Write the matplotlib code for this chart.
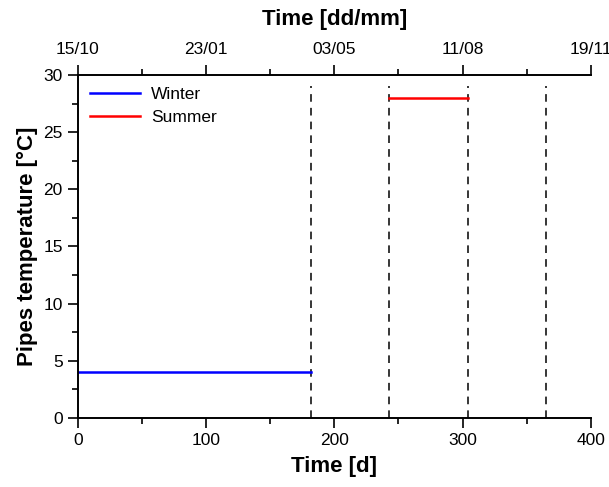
import numpy as np
import matplotlib.pyplot as plt
import matplotlib
from matplotlib.ticker import MultipleLocator
matplotlib.rcParams['font.family'] = 'Liberation Sans'

label_size = 16
tick_size = 12.5

winter_days = [0, 182]
winter_temp = [4, 4]
summer_days = [243, 304]
summer_temp = [28, 28]
season_limits = [182, 243, 304, 365]
dash_top = 29

top_ticks = [0, 100, 200, 300, 400]
top_labels = ["15/10", "23/01", "03/05", "11/08", "19/11"]

fig = plt.figure(figsize=(6.09, 4.87), dpi=100)
ax = fig.add_axes([0.128, 0.142, 0.842, 0.704])

for d in season_limits:
    ax.plot([d, d], [0, dash_top], color="k", linestyle=(0, (5, 4)), linewidth=1.1)

ax.plot(winter_days, winter_temp, color="b", linewidth=1.8, label="Winter")
ax.plot(summer_days, summer_temp, color="r", linewidth=1.8, label="Summer")

ax.set_xlim(0, 400)
ax.set_ylim(0, 30)
ax.xaxis.set_major_locator(MultipleLocator(100))
ax.xaxis.set_minor_locator(MultipleLocator(50))
ax.yaxis.set_major_locator(MultipleLocator(5))
ax.yaxis.set_minor_locator(MultipleLocator(2.5))
ax.tick_params(which="major", direction="out", length=7, width=1.2, labelsize=tick_size, pad=4)
ax.tick_params(which="minor", direction="out", length=4.5, width=1.2)
ax.spines["right"].set_visible(False)
ax.spines["top"].set_visible(False)
for s in ["left", "bottom"]:
    ax.spines[s].set_linewidth(1.4)

ax.set_xlabel("Time [d]", size=label_size, fontweight="bold", labelpad=6)
ax.set_ylabel("Pipes temperature [°C]", size=label_size, fontweight="bold", labelpad=4)

ax2 = ax.twiny()
ax2.set_xlim(0, 400)
ax2.set_xticks(top_ticks)
ax2.set_xticklabels(top_labels)
ax2.xaxis.set_minor_locator(MultipleLocator(50))
ax2.tick_params(which="major", direction="out", length=7, width=1.2, labelsize=tick_size, pad=6)
ax2.tick_params(which="minor", direction="out", length=4.5, width=1.2)
ax2.spines["right"].set_visible(False)
ax2.spines["left"].set_visible(False)
ax2.spines["bottom"].set_visible(False)
ax2.spines["top"].set_linewidth(1.4)
ax2.set_xlabel("Time [dd/mm]", size=label_size, fontweight="bold", labelpad=12)

ax.legend(loc="upper left", frameon=False, fontsize=12.5, handlelength=2.9,
          handletextpad=0.6, borderaxespad=0.3, labelspacing=0.45)

plt.savefig("out.png", dpi=100)
